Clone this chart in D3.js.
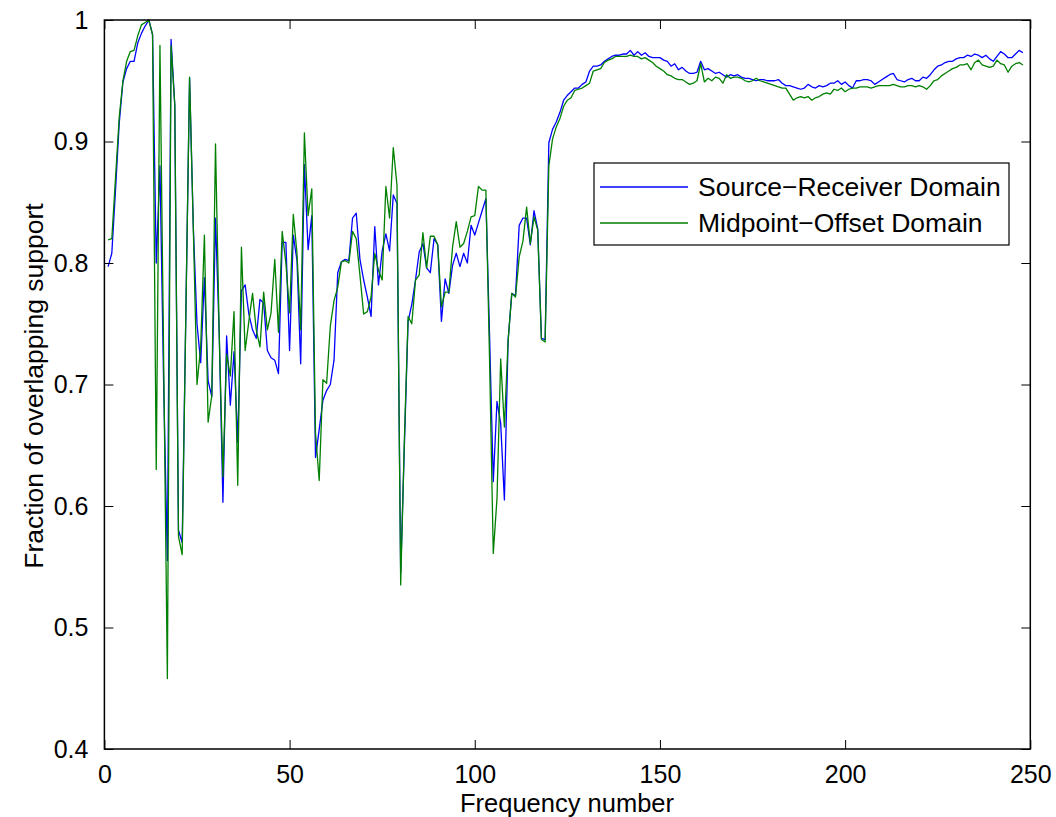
<!DOCTYPE html>
<html>
<head>
<meta charset="utf-8">
<script src="https://cdn.jsdelivr.net/npm/d3@7/dist/d3.min.js"></script>
<style>
  html, body { margin: 0; padding: 0; background: #fff; }
  svg text { font-family: "Liberation Sans", Arial, Helvetica, sans-serif; fill: #000; }
</style>
</head>
<body>
<svg id="chart" width="1056" height="817"></svg>
<script>
// Fraction of overlapping support per frequency number, two domains
const frequencies = d3.range(1, 249);

const sourceReceiver = [
  0.797, 0.808, 0.860, 0.915, 0.949, 0.960, 0.966, 0.966, 0.981, 0.989,
  0.995, 1.000, 0.988, 0.800, 0.880, 0.700, 0.555, 0.984, 0.930, 0.580,
  0.570, 0.760, 0.952, 0.830, 0.750, 0.718, 0.788, 0.703, 0.690, 0.837,
  0.742, 0.603, 0.740, 0.683, 0.727, 0.652, 0.777, 0.782, 0.758, 0.745,
  0.738, 0.770, 0.767, 0.728, 0.722, 0.720, 0.709, 0.817, 0.817, 0.728,
  0.823, 0.802, 0.717, 0.881, 0.811, 0.839, 0.640, 0.663, 0.687, 0.695,
  0.700, 0.720, 0.792, 0.801, 0.803, 0.802, 0.837, 0.841, 0.803, 0.786,
  0.772, 0.756, 0.830, 0.782, 0.810, 0.824, 0.810, 0.856, 0.849, 0.545,
  0.650, 0.752, 0.766, 0.786, 0.809, 0.816, 0.796, 0.792, 0.820, 0.815,
  0.752, 0.787, 0.775, 0.798, 0.808, 0.797, 0.808, 0.800, 0.831, 0.823,
  0.833, 0.843, 0.853, 0.740, 0.620, 0.686, 0.668, 0.605, 0.736, 0.775,
  0.773, 0.831, 0.837, 0.837, 0.815, 0.843, 0.828, 0.738, 0.737, 0.899,
  0.910, 0.916, 0.924, 0.934, 0.938, 0.941, 0.944, 0.944, 0.947, 0.949,
  0.958, 0.962, 0.962, 0.963, 0.966, 0.968, 0.970, 0.971, 0.971, 0.972,
  0.972, 0.975, 0.971, 0.974, 0.971, 0.973, 0.970, 0.969, 0.969, 0.969,
  0.967, 0.966, 0.962, 0.964, 0.959, 0.961, 0.958, 0.956, 0.956, 0.957,
  0.966, 0.959, 0.960, 0.958, 0.956, 0.957, 0.955, 0.953, 0.955, 0.954,
  0.955, 0.953, 0.952, 0.952, 0.951, 0.950, 0.951, 0.951, 0.950, 0.950,
  0.950, 0.951, 0.948, 0.946, 0.946, 0.945, 0.944, 0.943, 0.944, 0.947,
  0.945, 0.944, 0.946, 0.945, 0.946, 0.948, 0.948, 0.950, 0.947, 0.949,
  0.946, 0.944, 0.950, 0.950, 0.951, 0.951, 0.950, 0.947, 0.949, 0.951,
  0.953, 0.955, 0.956, 0.951, 0.950, 0.949, 0.951, 0.952, 0.950, 0.950,
  0.953, 0.952, 0.955, 0.959, 0.962, 0.963, 0.965, 0.966, 0.966, 0.968,
  0.969, 0.969, 0.971, 0.970, 0.972, 0.971, 0.969, 0.971, 0.968, 0.966,
  0.970, 0.974, 0.972, 0.969, 0.969, 0.972, 0.975, 0.973
];

const midpointOffset = [
  0.819, 0.820, 0.870, 0.920, 0.950, 0.966, 0.974, 0.975, 0.987, 0.996,
  0.998, 1.000, 0.988, 0.630, 0.979, 0.720, 0.458, 0.979, 0.930, 0.575,
  0.560, 0.760, 0.953, 0.830, 0.700, 0.731, 0.823, 0.669, 0.691, 0.898,
  0.742, 0.624, 0.725, 0.707, 0.760, 0.617, 0.813, 0.728, 0.752, 0.775,
  0.745, 0.731, 0.776, 0.745, 0.759, 0.803, 0.743, 0.826, 0.800, 0.759,
  0.840, 0.808, 0.745, 0.907, 0.839, 0.861, 0.660, 0.621, 0.704, 0.701,
  0.748, 0.769, 0.780, 0.801, 0.802, 0.800, 0.826, 0.820, 0.790, 0.758,
  0.760, 0.772, 0.808, 0.794, 0.786, 0.863, 0.837, 0.895, 0.864, 0.535,
  0.655, 0.756, 0.750, 0.786, 0.790, 0.825, 0.796, 0.822, 0.822, 0.815,
  0.764, 0.776, 0.776, 0.813, 0.834, 0.813, 0.816, 0.826, 0.838, 0.839,
  0.863, 0.860, 0.860, 0.720, 0.561, 0.606, 0.721, 0.665, 0.736, 0.775,
  0.772, 0.805, 0.818, 0.846, 0.816, 0.838, 0.827, 0.737, 0.735, 0.880,
  0.902, 0.912, 0.919, 0.929, 0.934, 0.936, 0.942, 0.943, 0.944, 0.946,
  0.948, 0.958, 0.959, 0.960, 0.965, 0.967, 0.968, 0.970, 0.970, 0.970,
  0.970, 0.971, 0.970, 0.970, 0.968, 0.969, 0.967, 0.965, 0.962, 0.960,
  0.958, 0.955, 0.954, 0.952, 0.951, 0.951, 0.949, 0.947, 0.948, 0.950,
  0.964, 0.949, 0.952, 0.950, 0.953, 0.952, 0.948, 0.955, 0.952, 0.953,
  0.953, 0.952, 0.950, 0.949, 0.950, 0.952, 0.950, 0.949, 0.948, 0.947,
  0.946, 0.945, 0.944, 0.944, 0.939, 0.934, 0.936, 0.937, 0.936, 0.937,
  0.934, 0.936, 0.937, 0.939, 0.940, 0.939, 0.943, 0.942, 0.944, 0.941,
  0.943, 0.944, 0.944, 0.945, 0.945, 0.945, 0.944, 0.945, 0.946, 0.946,
  0.946, 0.946, 0.947, 0.946, 0.945, 0.945, 0.946, 0.946, 0.945, 0.946,
  0.945, 0.943, 0.946, 0.950, 0.951, 0.954, 0.956, 0.958, 0.960, 0.961,
  0.963, 0.963, 0.964, 0.959, 0.965, 0.967, 0.963, 0.962, 0.961, 0.962,
  0.967, 0.964, 0.963, 0.957, 0.962, 0.964, 0.965, 0.963
];

const xTicks = [0, 50, 100, 150, 200, 250];
const yTicks = [0.4, 0.5, 0.6, 0.7, 0.8, 0.9, 1];
const seriesNames = ["Source\u2212Receiver Domain", "Midpoint\u2212Offset Domain"];
const seriesColors = ["#0000ff", "#008000"];

const svg = d3.select("#chart");
const plot = { left: 104.4, right: 1030.3, top: 20, bottom: 749 };
const tickFont = 25;
const labelFont = 26.5;
const xTitleFont = 25.5;

const x = d3.scaleLinear().domain([0, 250]).range([plot.left, plot.right]);
const y = d3.scaleLinear().domain([0.4, 1]).range([plot.bottom, plot.top]);

svg.append("rect").attr("width", 1056).attr("height", 817).attr("fill", "#fff");

// data lines
const line = d3.line().x((d, i) => x(frequencies[i])).y(d => y(d));
[sourceReceiver, midpointOffset].forEach((vals, k) => {
  svg.append("path")
    .datum(vals)
    .attr("d", line)
    .attr("fill", "none")
    .attr("stroke", seriesColors[k])
    .attr("stroke-width", 1.3)
    .attr("stroke-linejoin", "round");
});

// axes with inward ticks on all four sides
const tickLen = 9;
const gx = svg.append("g").attr("transform", `translate(0,${plot.bottom})`)
  .call(d3.axisBottom(x).tickValues(xTicks).tickFormat(d3.format("d"))
    .tickSizeInner(-tickLen).tickSizeOuter(0).tickPadding(16));
const gxTop = svg.append("g").attr("transform", `translate(0,${plot.top})`)
  .call(d3.axisTop(x).tickValues(xTicks).tickFormat("").tickSizeInner(-tickLen).tickSizeOuter(0));
const gy = svg.append("g").attr("transform", `translate(${plot.left},0)`)
  .call(d3.axisLeft(y).tickValues(yTicks).tickFormat(d => d === 1 ? "1" : d3.format(".1f")(d))
    .tickSizeInner(-tickLen).tickSizeOuter(0).tickPadding(16));
const gyRight = svg.append("g").attr("transform", `translate(${plot.right},0)`)
  .call(d3.axisRight(y).tickValues(yTicks).tickFormat("").tickSizeInner(-tickLen).tickSizeOuter(0));

[gx, gxTop, gy, gyRight].forEach(g => {
  g.select(".domain").remove();
  g.selectAll(".tick line").attr("stroke", "#000").attr("stroke-width", 1);
  g.selectAll("text").attr("font-size", tickFont)
    .attr("font-family", "'Liberation Sans', Arial, sans-serif").attr("fill", "#000");
});
gx.selectAll("text").attr("dy", "0.71em");

// frame
svg.append("rect")
  .attr("x", plot.left).attr("y", plot.top)
  .attr("width", plot.right - plot.left).attr("height", plot.bottom - plot.top)
  .attr("fill", "none").attr("stroke", "#000").attr("stroke-width", 1.5);

// axis titles
svg.append("text")
  .attr("x", 567).attr("y", 811.5)
  .attr("text-anchor", "middle").attr("font-size", xTitleFont)
  .text("Frequency number");
svg.append("text")
  .attr("transform", `translate(43,386) rotate(-90)`)
  .attr("text-anchor", "middle").attr("font-size", labelFont)
  .text("Fraction of overlapping support");

// legend
const legend = svg.append("g").attr("transform", "translate(594,163)");
legend.append("rect").attr("width", 415).attr("height", 82)
  .attr("fill", "#fff").attr("stroke", "#000").attr("stroke-width", 1.2);
seriesNames.forEach((name, k) => {
  const ly = 24 + k * 36;
  legend.append("line").attr("x1", 6).attr("x2", 94).attr("y1", ly).attr("y2", ly)
    .attr("stroke", seriesColors[k]).attr("stroke-width", 1.3);
  legend.append("text").attr("x", 104).attr("y", ly).attr("dy", "0.35em")
    .attr("font-size", labelFont).text(name);
});
</script>
</body>
</html>
